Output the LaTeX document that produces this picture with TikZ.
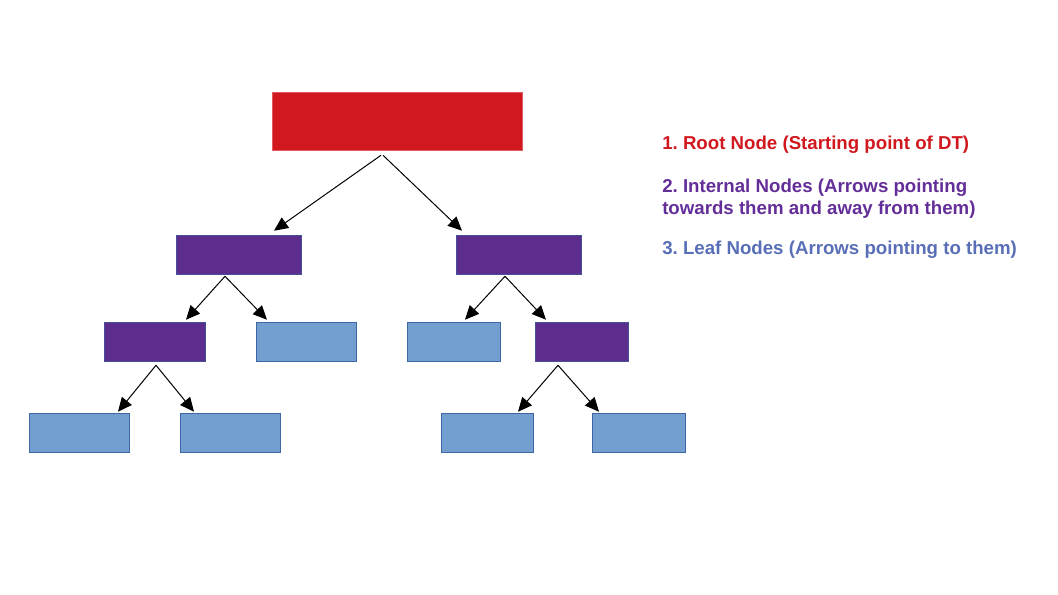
\documentclass[tikz,border=0pt]{standalone}
\usepackage{fontspec}
\setmainfont{Liberation Sans}
\usetikzlibrary{arrows.meta,calc}
\frenchspacing

\definecolor{rootred}{RGB}{208,24,30}
\definecolor{rootedge}{RGB}{226,90,96}
\definecolor{innerpurple}{RGB}{92,45,140}
\definecolor{inneredge}{RGB}{70,80,150}
\definecolor{leafblue}{RGB}{114,159,207}
\definecolor{leafedge}{RGB}{62,104,165}
\definecolor{txtpurple}{RGB}{100,46,152}
\definecolor{txtblue}{RGB}{88,110,182}

\tikzset{
  rootbox/.style={draw=rootedge,fill=rootred,inner sep=0pt,minimum height=43.5pt},
  innerbox/.style={draw=inneredge,fill=innerpurple,inner sep=0pt,minimum height=29.25pt},
  leafbox/.style={draw=leafedge,fill=leafblue,inner sep=0pt,minimum height=29.25pt},
  treearrow/.style={draw=black,line width=0.75pt,-{Triangle[length=10.5pt,width=9.5pt]}},
  legendtext/.style={inner sep=0pt,font=\bfseries\fontsize{14}{17}\selectfont,align=left}
}

\begin{document}
\begin{tikzpicture}[x=0.75pt,y=0.75pt,yscale=-1,xscale=1]
\useasboundingbox (0,0) rectangle (1058,595);
            %Shape: Rectangle [root]
            \node [rootbox,minimum width=187.5pt] (root) at (397,121) {};
            %Shape: Rectangle [internal nodes]
            \node [innerbox,minimum width=93.75pt] (inL) at (238.5,254.5) {};
            \node [innerbox,minimum width=93.75pt] (inR) at (518.5,254.5) {};
            \node [innerbox,minimum width=75.75pt] (inLL) at (154.5,341.5) {};
            \node [innerbox,minimum width=69.75pt] (inRR) at (581.5,341.5) {};
            %Shape: Rectangle [leaf nodes]
            \node [leafbox,minimum width=75pt] (leafLR) at (306,341.5) {};
            \node [leafbox,minimum width=69.75pt] (leafRL) at (453.5,341.5) {};
            \node [leafbox,minimum width=75pt] (leafA) at (79,432.5) {};
            \node [leafbox,minimum width=75pt] (leafB) at (230,432.5) {};
            \node [leafbox,minimum width=69pt] (leafC) at (487,432.5) {};
            \node [leafbox,minimum width=69.75pt] (leafD) at (638.5,432.5) {};

            %Straight Lines [arrows]
            \draw [treearrow] ($(root.south)+(-16,5)$) -- ($(inL.north)+(35.5,-4)$);
            \draw [treearrow] ($(root.south)+(-14,5)$) -- ($(inR.north)+(-56.5,-4)$);
            \draw [treearrow] ($(inL.south)+(-13.5,2)$) -- ($(inLL.north)+(31.5,-2)$);
            \draw [treearrow] ($(inL.south)+(-13.5,2)$) -- ($(leafLR.north)+(-39,-2)$);
            \draw [treearrow] ($(inR.south)+(-13.5,2)$) -- ($(leafRL.north)+(11.5,-2)$);
            \draw [treearrow] ($(inR.south)+(-13.5,2)$) -- ($(inRR.north)+(-35.5,-2)$);
            \draw [treearrow] ($(inLL.south)+(1.5,4)$) -- ($(leafA.north)+(39,-1)$);
            \draw [treearrow] ($(inLL.south)+(1.5,4)$) -- ($(leafB.north)+(-36,-1)$);
            \draw [treearrow] ($(inRR.south)+(-23.5,4)$) -- ($(leafC.north)+(31,-1)$);
            \draw [treearrow] ($(inRR.south)+(-23.5,4)$) -- ($(leafD.north)+(-39.5,-1)$);

            % Text Node
            \node [legendtext,anchor=base west,text=rootred] (txtroot) at (662,150) {1. Root Node (Starting point of DT)};
            % Text Node
            \node [legendtext,anchor=north west,text=txtpurple] (txtinner) at (662,178.5) {2. Internal Nodes (Arrows pointing\\towards them and away from them)};
            % Text Node
            \node [legendtext,anchor=base west,text=txtblue] (txtleaf) at (662,254.5) {3. Leaf Nodes (Arrows pointing to them)};
\end{tikzpicture}
\end{document}
